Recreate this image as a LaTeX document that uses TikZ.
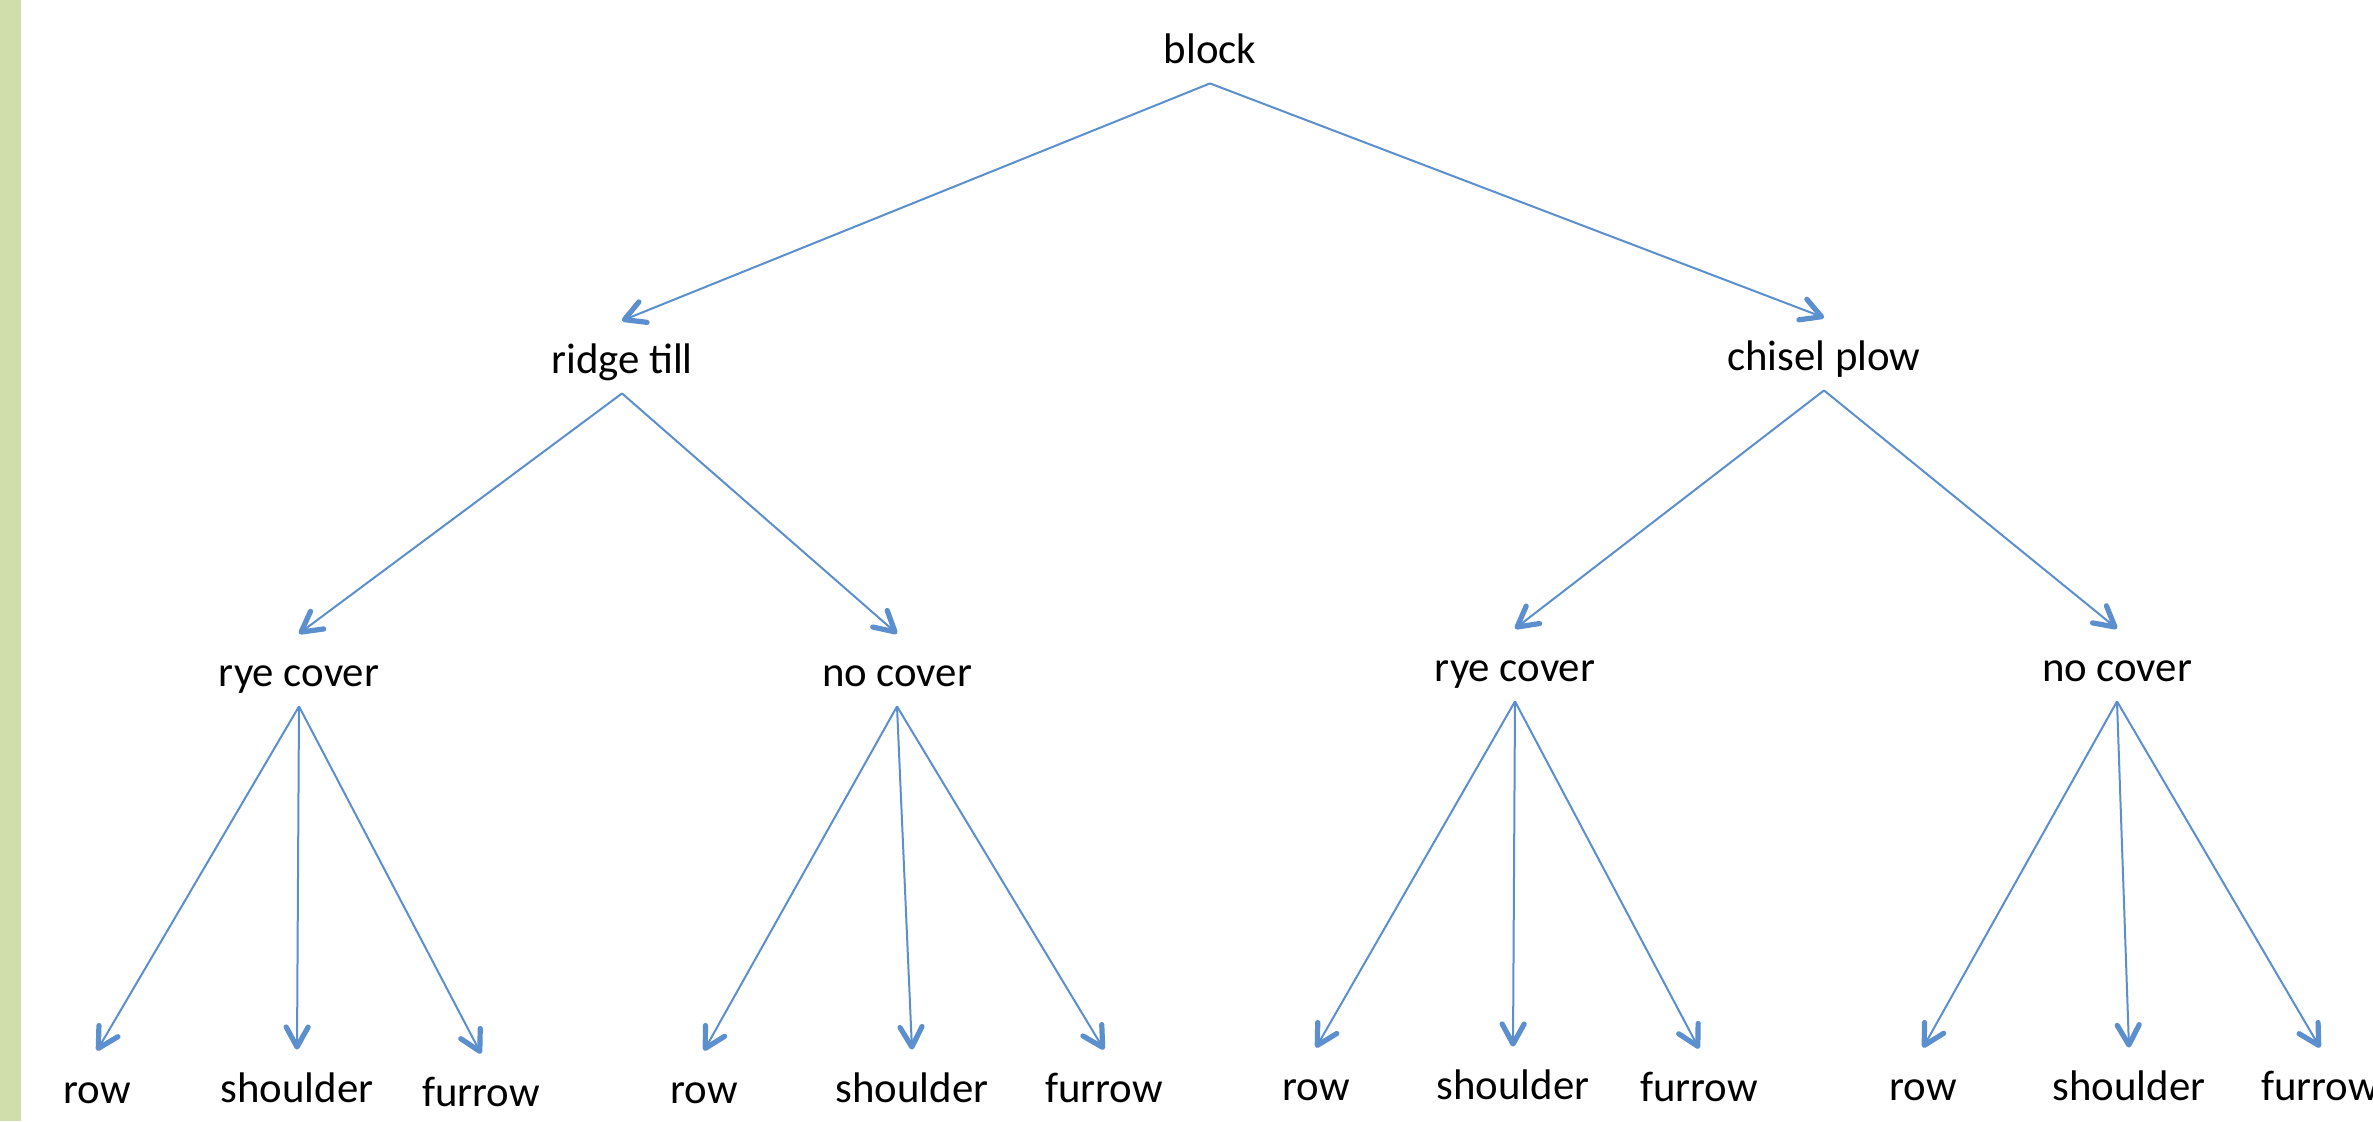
\documentclass[tikz,border=0pt]{standalone}
\usepackage{fontspec}
\setmainfont{Carlito}
\usetikzlibrary{arrows.meta}
\definecolor{linkblue}{RGB}{91,143,205}
\definecolor{bargreen}{RGB}{207,222,171}
\begin{document}
\begin{tikzpicture}[x=0.5pt,y=-0.5pt,
  lbl/.style={anchor=base, inner sep=0pt, text height=26pt, text depth=10pt, font=\fontsize{21.4}{25}\selectfont},
  link/.style={draw=linkblue, line width=1pt, -{Straight Barb[length=10pt,width=11pt,line width=2.6pt,round]}}]
\clip (0,0) rectangle (2373,1121);
\fill[white] (0,0) rectangle (2373,1121);
\fill[bargreen] (0,0) rectangle (21,1121);
% nodes
\node[lbl] (block) at (1210,63) {block};
\node[lbl] (ridge) at (622,373) {ridge till};
\node[lbl] (chisel) at (1824,370) {chisel plow};
\node[lbl] (ryeA) at (299,686) {rye cover};
\node[lbl] (noA) at (897,686) {no cover};
\node[lbl] (ryeB) at (1515,681) {rye cover};
\node[lbl] (noB) at (2117,681) {no cover};
\node[lbl] (rowA) at (97,1103) {row};
\node[lbl] (shA) at (297,1102) {shoulder};
\node[lbl] (fuA) at (481,1106) {furrow};
\node[lbl] (rowB) at (704,1103) {row};
\node[lbl] (shB) at (912,1102) {shoulder};
\node[lbl] (fuB) at (1104,1102) {furrow};
\node[lbl] (rowC) at (1316,1100) {row};
\node[lbl] (shC) at (1513,1099) {shoulder};
\node[lbl] (fuC) at (1699,1101) {furrow};
\node[lbl] (rowD) at (1923,1100) {row};
\node[lbl] (shD) at (2129,1100) {shoulder};
\node[lbl] (fuD) at (2320,1100) {furrow};
% connectors
\draw[link] (block.south) -- (ridge.north);
\draw[link] (block.south) -- (chisel.north);
\draw[link] (ridge.south) -- (ryeA.north);
\draw[link] (ridge.south) -- (noA.north);
\draw[link] (chisel.south) -- (ryeB.north);
\draw[link] (chisel.south) -- (noB.north);
\draw[link] (ryeA.south) -- (rowA.north);
\draw[link] (ryeA.south) -- (shA.north);
\draw[link] (ryeA.south) -- (fuA.north);
\draw[link] (noA.south) -- (rowB.north);
\draw[link] (noA.south) -- (shB.north);
\draw[link] (noA.south) -- (fuB.north);
\draw[link] (ryeB.south) -- (rowC.north);
\draw[link] (ryeB.south) -- (shC.north);
\draw[link] (ryeB.south) -- (fuC.north);
\draw[link] (noB.south) -- (rowD.north);
\draw[link] (noB.south) -- (shD.north);
\draw[link] (noB.south) -- (fuD.north);
\end{tikzpicture}
\end{document}
